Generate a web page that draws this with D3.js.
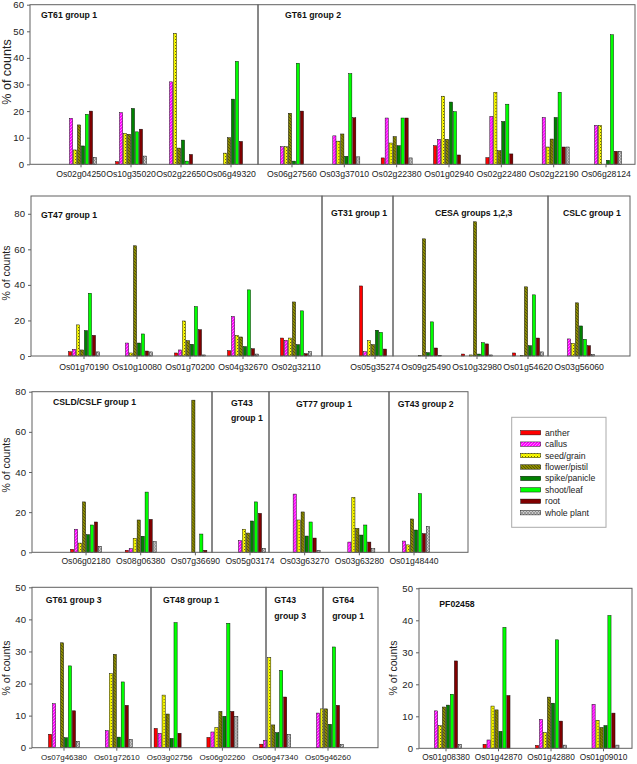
<!DOCTYPE html>
<html><head><meta charset="utf-8">
<script src="https://cdn.jsdelivr.net/npm/d3@7"></script>
<style>
body{margin:0;background:#fff}
svg{display:block}
text{font-family:"Liberation Sans",Arial,sans-serif}
</style>
</head><body>
<svg id="chart" width="637" height="764"></svg>
<script>
// ---------- DATA ----------
const seriesNames = ["anther","callus","seed/grain","flower/pistil","spike/panicle","shoot/leaf","root","whole plant"];

const ticksRow1 = [0,10,20,30,40,50,60];
const ticksRow2 = [0,20,40,60,80];
const ticksRow3 = [0,20,40,60,80];
const ticksRow4 = [0,10,20,30,40,50];
const ticksRow5 = [0,10,20,30,40,50];

// values per gene: anther, callus, seed/grain, flower/pistil, spike/panicle, shoot/leaf, root, whole plant
const gt61g1Genes = ["Os02g04250","Os10g35020","Os02g22650","Os06g49320"];
const gt61g1Values = [
  [0,17.3,5.4,14.8,6.9,18.8,20.0,2.6],
  [1.0,19.4,11.6,11.3,21.0,12.2,13.2,3.1],
  [0,31.0,49.2,6.1,9.1,1.2,3.7,0],
  [0,0,4.2,10.0,24.5,38.7,8.6,0]
];
const gt61g2Genes = ["Os06g27560","Os03g37010","Os02g22380","Os01g02940","Os02g22480","Os02g22190","Os06g28124"];
const gt61g2Values = [
  [0,6.6,6.6,19.2,1.2,38.0,20.0,0],
  [0,10.7,8.7,11.4,3.0,34.1,17.5,2.8],
  [2.4,17.4,8.0,10.4,7.0,17.4,17.4,2.4],
  [7.0,9.4,25.6,9.4,23.4,19.8,3.5,0],
  [2.5,18.0,27.1,5.1,16.1,22.6,3.9,0],
  [0,17.6,6.5,9.5,17.6,27.1,6.5,6.5],
  [0,14.6,14.6,0,1.5,48.7,4.9,4.9]
];
const gt47g1Genes = ["Os01g70190","Os10g10080","Os01g70200","Os04g32670","Os02g32110"];
const gt47g1Values = [
  [2.4,3.8,17.5,3.4,14.3,35.3,11.6,2.3],
  [0,7.3,1.7,62.0,7.3,12.4,2.8,2.3],
  [1.7,3.4,19.7,8.6,6.6,27.8,14.8,0.6],
  [3.0,22.2,11.6,10.7,5.3,37.2,4.1,1.1],
  [10.1,8.8,10.1,30.4,6.4,25.4,1.3,2.4]
];
const gt31g1Genes = ["Os05g35274"];
const gt31g1Values = [
  [39.4,2.4,8.6,6.4,14.5,13.3,3.9,0]
];
const cesaGenes = ["Os09g25490","Os10g32980","Os01g54620"];
const cesaValues = [
  [0,0,0.3,65.9,1.9,19.2,4.5,0.4],
  [1.1,0,0.6,75.5,1.1,7.5,6.8,0.6],
  [1.7,0,0.3,38.9,5.8,34.4,10.1,2.3]
];
const cslcGenes = ["Os03g56060"];
const cslcValues = [
  [0,9.6,7.1,29.9,16.9,9.4,5.8,0.9]
];
const csldGenes = ["Os06g02180","Os08g06380","Os07g36690"];
const csldValues = [
  [1.5,11.5,4.6,25.1,8.8,13.6,15.1,3.0],
  [1.0,1.8,7.0,16.1,8.0,30.0,16.4,5.3],
  [0,0,0,75.8,0,9.1,1.0,0]
];
const gt43g1Genes = ["Os05g03174"];
const gt43g1Values = [
  [0,5.8,11.5,9.6,15.6,25.1,19.4,2.0]
];
const gt77g1Genes = ["Os03g63270","Os03g63280"];
const gt77g1Values = [
  [0,29.0,16.1,20.1,8.1,15.1,7.1,1.0],
  [0,5.1,27.4,11.9,8.6,13.6,5.1,1.8]
];
const gt43g2Genes = ["Os01g48440"];
const gt43g2Values = [
  [0,5.6,3.7,16.6,11.1,29.2,9.3,12.9]
];
const gt61g3Genes = ["Os07g46380","Os01g72610"];
const gt61g3Values = [
  [4.2,13.7,0,32.7,3.1,25.5,11.5,2.0],
  [0,5.3,23.1,29.1,3.3,20.5,13.2,2.6]
];
const gt48g1Genes = ["Os03g02756","Os06g02260"];
const gt48g1Values = [
  [6.0,4.5,16.4,10.5,2.9,39.0,4.5,0],
  [3.2,4.9,6.3,11.3,9.8,38.8,11.3,9.8]
];
const gt43g3Genes = ["Os06g47340"];
const gt43g3Values = [
  [1.1,2.3,28.1,7.1,4.7,24.1,15.8,4.2]
];
const gt64g1Genes = ["Os05g46260"];
const gt64g1Values = [
  [0,10.8,12.1,12.1,7.3,31.4,13.2,1.0]
];
const pfGenes = ["Os01g08380","Os01g42870","Os01g42880","Os01g09010"];
const pfValues = [
  [0,11.7,7.1,12.9,13.5,16.9,27.3,1.25],
  [1.25,2.6,13.2,12.0,5.3,37.8,16.5,0],
  [0.9,9.0,4.9,16.0,14.1,33.9,8.5,1.0],
  [0,13.75,8.75,6.5,7.1,41.5,11.0,1.0]
];

// ---------- LAYOUT / STYLE ----------
const seriesFills = ["#ff0000","url(#pCallus)","url(#pSeed)","url(#pFlower)","#008000","#00ff00","#800000","url(#pWhole)"];

const rows = [
  {top:4.7,  base:164.3, max:60, ticks:ticksRow1, axisX:30,  labelY:177.5, labelSize:8.7, ylab:{x:10.5, y:72,  size:12.5}},
  {top:196,  base:356,   max:90, ticks:ticksRow2, axisX:31,  labelY:369.5, labelSize:8.7, ylab:{x:9.5,  y:273, size:10.5}},
  {top:391.7,base:552.3, max:80, ticks:ticksRow3, axisX:32,  labelY:564.5, labelSize:8.6, ylab:{x:9.5,  y:465, size:10.5}},
  {top:587.3,base:747.7, max:50, ticks:ticksRow4, axisX:32,  labelY:760,   labelSize:8.0, ylab:{x:9.5,  y:668, size:10.5}},
  {top:588.3,base:748.3, max:50, ticks:ticksRow5, axisX:419, labelY:760.5, labelSize:8.3, ylab:{x:397,  y:668, size:10.5}}
];

const groups = [
  {row:0, title:["GT61 group 1"], genes:gt61g1Genes, values:gt61g1Values, box:[30,258],  band:[56,256],       tx:41,    ty:[17.5]},
  {row:0, title:["GT61 group 2"], genes:gt61g2Genes, values:gt61g2Values, box:[258,635], band:[265.8,632.2],  tx:285,   ty:[17.5]},
  {row:1, title:["GT47 group 1"], genes:gt47g1Genes, values:gt47g1Values, box:[31,322],  band:[57.5,322.5],   tx:41,    ty:[218]},
  {row:1, title:["GT31 group 1"], genes:gt31g1Genes, values:gt31g1Values, box:[322,393], band:[349.5,400.5],  tx:331,   ty:[215.5]},
  {row:1, title:["CESA groups 1,2,3"], genes:cesaGenes, values:cesaValues, box:[393,548], band:[400.5,553.5], tx:435, ty:[215.5]},
  {row:1, title:["CSLC group 1"], genes:cslcGenes, values:cslcValues, box:[548,630], band:[553.5,604.5],      tx:563,   ty:[215.5]},
  {row:2, title:["CSLD/CSLF group 1"], genes:csldGenes, values:csldValues, box:[32,212], band:[58.7,222.7],   tx:53,    ty:[405]},
  {row:2, title:["GT43","group 1"], genes:gt43g1Genes, values:gt43g1Values, box:[212,269], band:[222.7,277.3], tx:231, ty:[405.5,420.5]},
  {row:2, title:["GT77 group 1"], genes:gt77g1Genes, values:gt77g1Values, box:[269,389], band:[277.3,386.7],  tx:296,   ty:[407.3]},
  {row:2, title:["GT43 group 2"], genes:gt43g2Genes, values:gt43g2Values, box:[389,468], band:[386.7,441.3],  tx:397.7, ty:[407.3]},
  {row:3, title:["GT61 group 3"], genes:gt61g3Genes, values:gt61g3Values, box:[32,151],  band:[37.6,143.2],   tx:45.7,  ty:[603]},
  {row:3, title:["GT48 group 1"], genes:gt48g1Genes, values:gt48g1Values, box:[151,266], band:[143.2,248.8],  tx:163,   ty:[603]},
  {row:3, title:["GT43","group 3"], genes:gt43g3Genes, values:gt43g3Values, box:[266,323], band:[248.8,301.6], tx:274.3, ty:[603.3,618.5]},
  {row:3, title:["GT64","group 1"], genes:gt64g1Genes, values:gt64g1Values, box:[323,378], band:[301.6,354.4], tx:332.3, ty:[603.3,618.5]},
  {row:4, title:["PF02458"], genes:pfGenes, values:pfValues, box:[419,632], band:[419.75,629.75],            tx:439.3, ty:[606.5]}
];

const svg = d3.select("#chart");
svg.append("rect").attr("width",637).attr("height",764).attr("fill","#fff");

// patterns
const defs = svg.append("defs");
{
  const p1 = defs.append("pattern").attr("id","pCallus").attr("patternUnits","userSpaceOnUse").attr("width",3).attr("height",3);
  p1.append("rect").attr("width",3).attr("height",3).attr("fill","#ff00ff");
  p1.append("path").attr("d","M0,3L3,0M-1,1L1,-1M2,4L4,2").attr("stroke","#ff9cff").attr("stroke-width",0.8);
  const p2 = defs.append("pattern").attr("id","pSeed").attr("patternUnits","userSpaceOnUse").attr("width",3).attr("height",3);
  p2.append("rect").attr("width",3).attr("height",3).attr("fill","#ffff00");
  p2.append("rect").attr("x",0).attr("y",0).attr("width",1).attr("height",1).attr("fill","#6b6b00");
  p2.append("rect").attr("x",1.5).attr("y",1.5).attr("width",1).attr("height",1).attr("fill","#b0b000");
  const p3 = defs.append("pattern").attr("id","pFlower").attr("patternUnits","userSpaceOnUse").attr("width",3).attr("height",3);
  p3.append("rect").attr("width",3).attr("height",3).attr("fill","#8a8a00");
  p3.append("path").attr("d","M0,0L3,3M-1,2L1,4M2,-1L4,1").attr("stroke","#4a4a00").attr("stroke-width",0.8);
  const p4 = defs.append("pattern").attr("id","pWhole").attr("patternUnits","userSpaceOnUse").attr("width",3).attr("height",3);
  p4.append("rect").attr("width",3).attr("height",3).attr("fill","#c8c8c8");
  p4.append("path").attr("d","M0,0L3,3M0,3L3,0").attr("stroke","#7a7a7a").attr("stroke-width",0.6);
}

const frameColor = "#606060";
const inner = d3.scaleBand().domain(seriesNames).range([-15.5,15.5]).paddingInner(0.2);

rows.forEach((r, ri) => {
  const y = d3.scaleLinear().domain([0, r.max]).range([r.base, r.top]);
  r.y = y;
  const ax = svg.append("g").attr("transform",`translate(${r.axisX},0)`)
    .call(d3.axisLeft(y).tickValues(r.ticks).tickSize(3).tickPadding(3).tickSizeOuter(0));
  ax.select(".domain").remove();
  ax.selectAll("line").attr("stroke",frameColor);
  ax.selectAll("text").attr("font-size","9.6px").attr("fill","#222")
    .attr("font-family","'Liberation Sans',Arial,sans-serif");
  svg.append("text").attr("transform",`translate(${r.ylab.x},${r.ylab.y}) rotate(-90)`)
    .attr("text-anchor","middle").attr("font-size",r.ylab.size+"px").attr("fill","#222")
    .text("% of counts");
});

groups.forEach(g => {
  const r = rows[g.row];
  const y = r.y;
  const x = d3.scaleBand().domain(g.genes).range(g.band).padding(0);
  // bars
  const cat = svg.append("g").selectAll("g").data(g.genes).join("g")
    .attr("transform", d => `translate(${x(d)+x.bandwidth()/2},0)`);
  cat.selectAll("rect")
    .data((d,i) => g.values[i].map((v,j) => ({s:seriesNames[j], v, j})).filter(e => e.v > 0))
    .join("rect")
    .attr("x", e => inner(e.s))
    .attr("width", inner.bandwidth())
    .attr("y", e => y(e.v))
    .attr("height", e => r.base - y(e.v))
    .attr("fill", e => seriesFills[e.j])
    .attr("stroke","#000").attr("stroke-width",0.45);
  // bottom axis (ticks + labels)
  const bx = svg.append("g").attr("transform",`translate(0,${r.base})`)
    .call(d3.axisBottom(x).tickSize(3).tickSizeOuter(0));
  bx.select(".domain").remove();
  bx.selectAll("line").attr("stroke",frameColor);
  bx.selectAll("text").attr("y", r.labelY - r.base).attr("dy",0)
    .attr("font-size",r.labelSize+"px").attr("fill","#222")
    .attr("font-family","'Liberation Sans',Arial,sans-serif");
  // frame box
  svg.append("rect").attr("x",g.box[0]).attr("y",r.top).attr("width",g.box[1]-g.box[0])
    .attr("height",r.base-r.top).attr("fill","none").attr("stroke",frameColor).attr("stroke-width",1);
  // title
  g.title.forEach((t,i) => {
    svg.append("text").attr("x",g.tx).attr("y",g.ty[i]).attr("font-size","8.7px")
      .attr("font-weight","bold").attr("fill","#111").text(t);
  });
});

// legend
const lg = svg.append("g");
lg.append("rect").attr("x",511.7).attr("y",417.3).attr("width",94.3).attr("height",110)
  .attr("fill","#fff").attr("stroke","#aaa").attr("stroke-width",1);
const ly = d3.scalePoint().domain(seriesNames).range([432.7,512.7]);
lg.selectAll("rect.sw").data(seriesNames).join("rect").attr("class","sw")
  .attr("x",520.7).attr("width",20).attr("y",d => ly(d)-2.2).attr("height",4.4)
  .attr("fill",(d,i) => seriesFills[i]).attr("stroke","#000").attr("stroke-width",0.45);
lg.selectAll("text").data(seriesNames).join("text")
  .attr("x",545).attr("y",d => ly(d)+3).attr("font-size","8.7px").attr("fill","#222").text(d => d);
</script>
</body></html>
